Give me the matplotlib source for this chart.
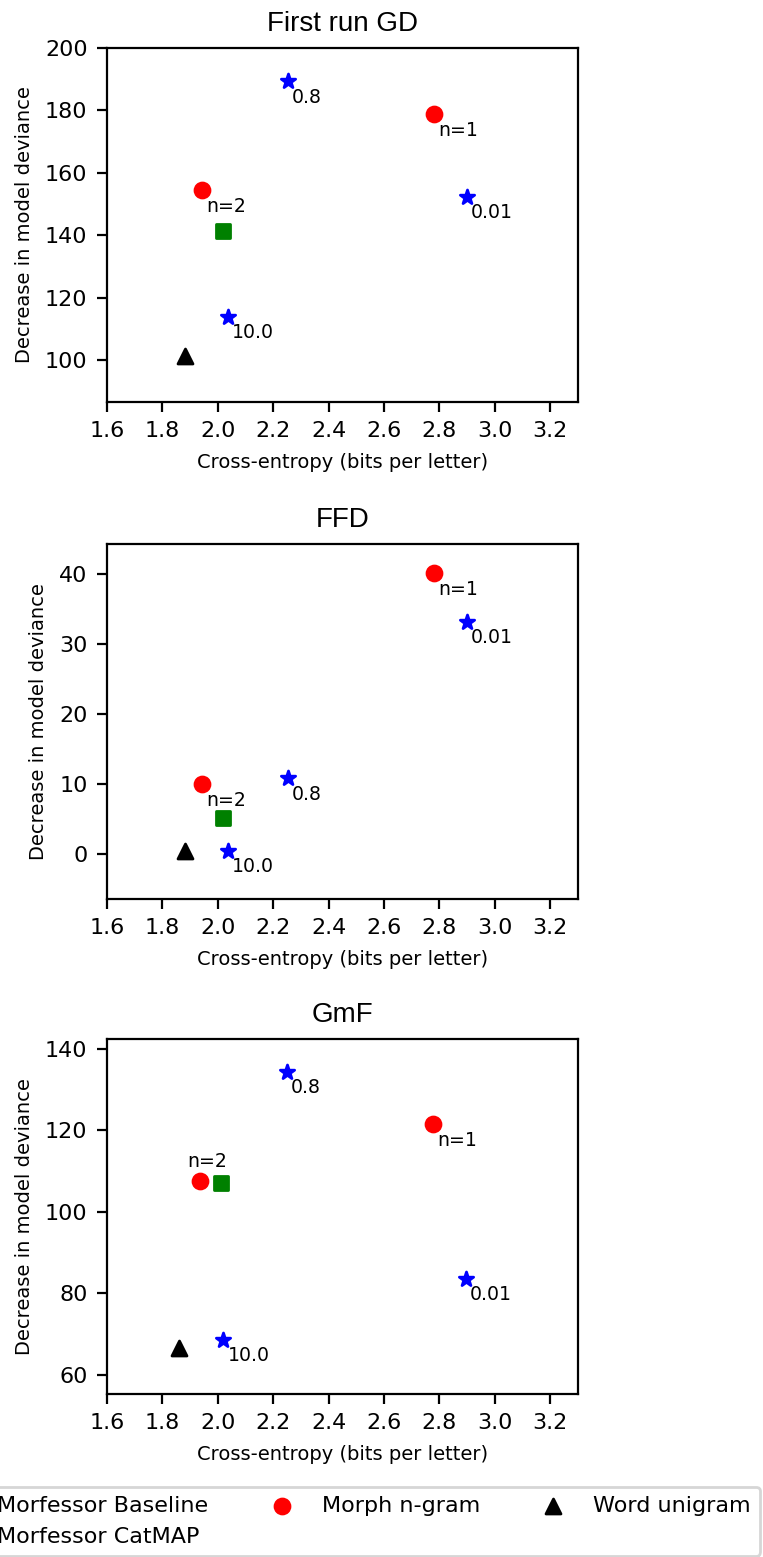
import numpy as np
import matplotlib
matplotlib.use('Agg')
import matplotlib.pyplot as plt

# values
titles = ['First run GD', 'FFD', 'GmF']
ylims = [(86.6, 200.0), (-6.4, 44.3), (55.3, 142.45)]
yticks = [np.arange(100, 201, 20), np.arange(0, 41, 10), np.arange(60, 141, 20)]

baseline_labels = ['0.01', '0.8', '10.0']
baseline_x = [[2.898, 2.253, 2.036], [2.898, 2.253, 2.036], [2.895, 2.248, 2.020]]
baseline_y = [[152.4, 189.3, 113.9], [33.2, 10.9, 0.5], [83.6, 134.4, 68.6]]

ngram_labels = ['n=1', 'n=2']
ngram_x = [[2.779, 1.943], [2.779, 1.943], [2.777, 1.935]]
ngram_y = [[178.7, 154.5], [40.1, 10.0], [121.5, 107.7]]

catmap_x = [2.018, 2.018, 2.010]
catmap_y = [141.3, 5.1, 107.1]

unigram_x = [1.880, 1.880, 1.859]
unigram_y = [101.2, 0.5, 66.6]

W, H, DPI = 763, 1557, 200
fig = plt.figure(figsize=(W / DPI, H / DPI), dpi=DPI)

# axes boxes in pixels: (left, top, right, bottom)
boxes = [(107, 48, 578, 402), (107, 544, 578, 899), (107, 1039, 578, 1394)]

for i, (l, t, r, b) in enumerate(boxes):
    ax = fig.add_axes([l / W, 1 - b / H, (r - l) / W, (b - t) / H])
    ms = 29
    ax.scatter(baseline_x[i], baseline_y[i], marker='*', c='b', s=ms,
               label='Morfessor Baseline', zorder=3)
    ax.scatter(catmap_x[i], catmap_y[i], marker='s', c='g', s=ms,
               label='Morfessor CatMAP', zorder=3)
    ax.scatter(ngram_x[i], ngram_y[i], marker='o', c='r', s=ms,
               label='Morph n-gram', zorder=3)
    ax.scatter(unigram_x[i], unigram_y[i], marker='^', c='k', s=ms,
               label='Word unigram', zorder=3)

    for lab, x, y in zip(baseline_labels, baseline_x[i], baseline_y[i]):
        ax.annotate(lab, (x, y), xytext=(1.5, -7.8), textcoords='offset points',
                    fontsize=6.8)
    for lab, x, y in zip(ngram_labels, ngram_x[i], ngram_y[i]):
        off = (1.5, -7.8)
        if i == 2 and lab == 'n=2':
            off = (-4.6, 4.7)
        ax.annotate(lab, (x, y), xytext=off, textcoords='offset points',
                    fontsize=6.8)

    ax.set_xlim(1.6, 3.3)
    ax.set_ylim(*ylims[i])
    ax.set_xticks(np.arange(1.6, 3.21, 0.2))
    ax.set_yticks(yticks[i])
    ax.tick_params(labelsize=8)
    ax.set_xlabel('Cross-entropy (bits per letter)', fontsize=7)
    ax.set_ylabel('Decrease in model deviance', fontsize=7)
    ax.set_title(titles[i], fontsize=10, family='Liberation Sans')

handles, labels = ax.get_legend_handles_labels()
fig.legend(handles, labels, loc='upper right', ncol=3, fontsize=8,
           borderaxespad=0, columnspacing=2.3,
           bbox_to_anchor=(760 / W, 1 - 1486.7 / H))

fig.savefig('out.png', dpi=DPI)
